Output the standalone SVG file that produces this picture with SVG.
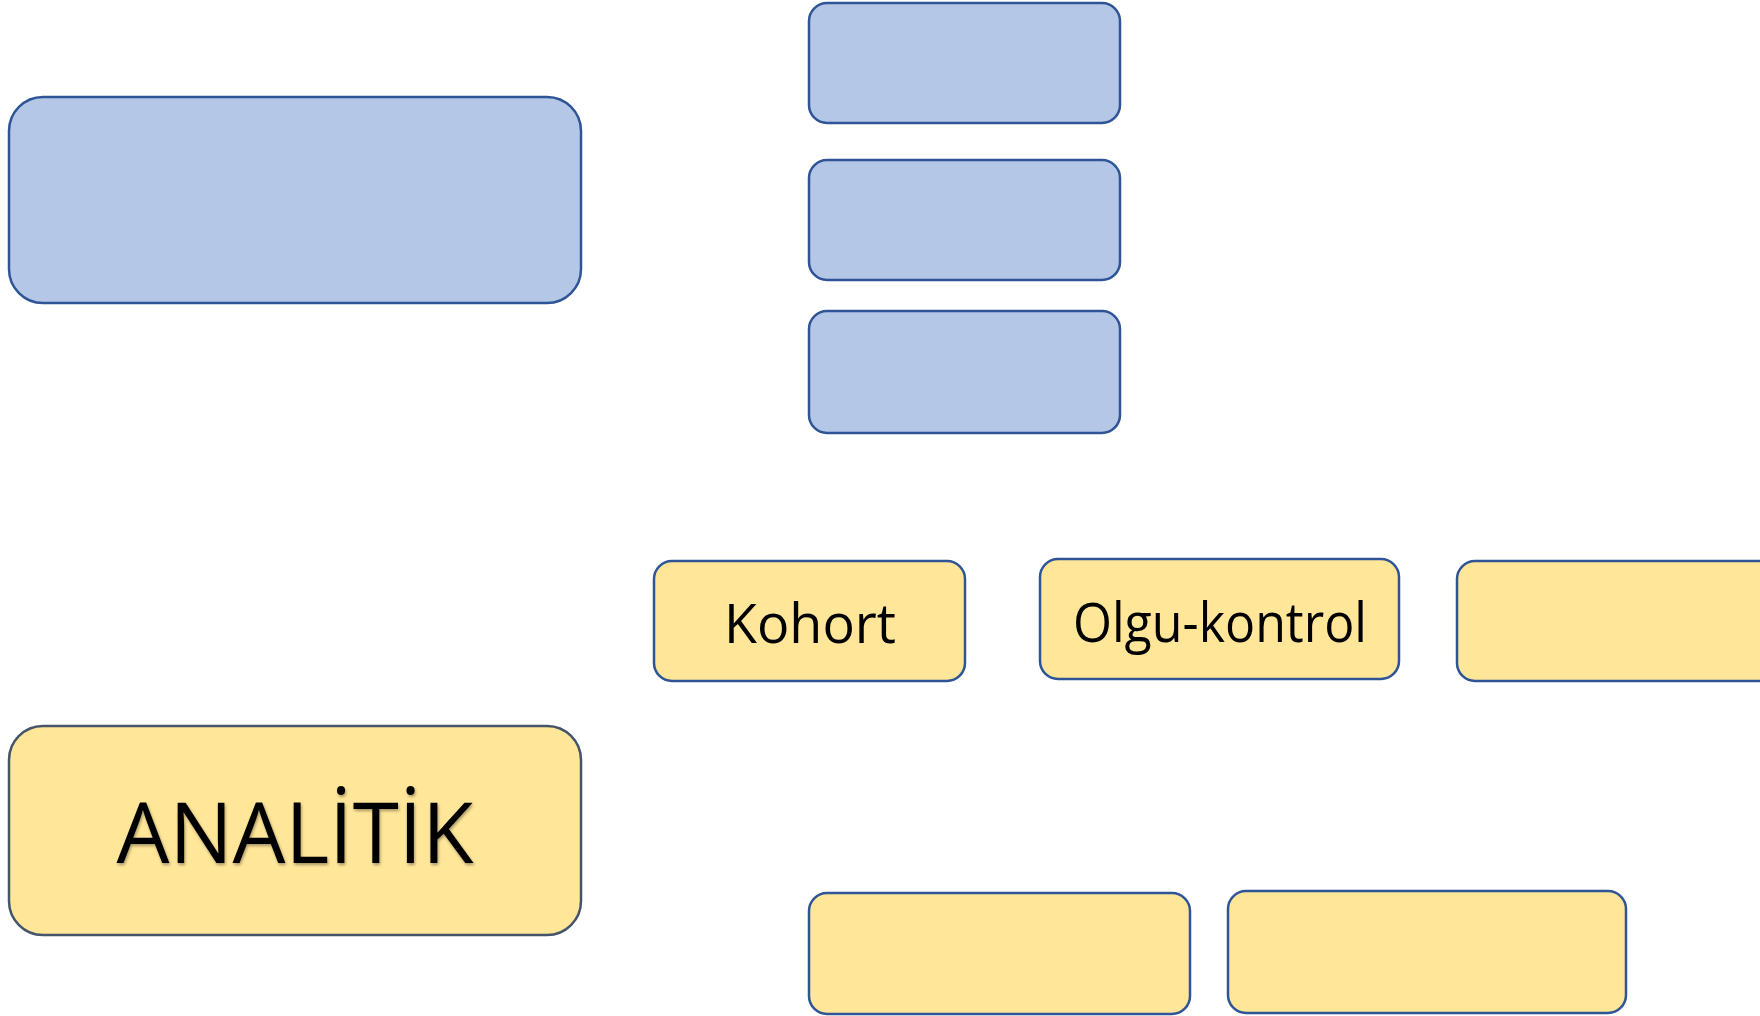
<svg xmlns="http://www.w3.org/2000/svg" width="1760" height="1016" viewBox="0 0 1760 1016">
<style>
.b{fill:#B4C7E7;stroke:#2F5597;stroke-width:2.5}
.y{fill:#FFE699;stroke:#2F5597;stroke-width:2.5}
.ya{fill:#FFE699;stroke:#44546A;stroke-width:2.5}
.t{font-family:"Open Sans","Noto Sans",sans-serif;fill:#000;text-anchor:middle}
</style>
<defs>
<filter id="sh" x="-10%" y="-10%" width="120%" height="130%">
<feGaussianBlur in="SourceAlpha" stdDeviation="1.5"/>
<feOffset dx="1" dy="2" result="o"/>
<feComponentTransfer><feFuncA type="linear" slope="0.35"/></feComponentTransfer>
<feMerge><feMergeNode/><feMergeNode in="SourceGraphic"/></feMerge>
</filter>
</defs>
<g id="connectors"></g>
<g id="blue-big"><rect class="b" x="9" y="97" width="572" height="206" rx="34"/></g>
<g id="blue-1"><rect class="b" x="809" y="3" width="311" height="120" rx="18"/></g>
<g id="blue-2"><rect class="b" x="809" y="160" width="311" height="120" rx="18"/></g>
<g id="blue-3"><rect class="b" x="809" y="311" width="311" height="122" rx="18"/></g>
<g id="kohort"><rect class="y" x="654" y="561" width="311" height="120" rx="18"/>
<text class="t" x="810" y="643" font-size="55" textLength="172" lengthAdjust="spacingAndGlyphs">Kohort</text></g>
<g id="olgu-kontrol"><rect class="y" x="1040" y="559" width="359" height="120" rx="18"/>
<text class="t" x="1220" y="642" font-size="55" textLength="294" lengthAdjust="spacingAndGlyphs">Olgu-kontrol</text></g>
<g id="yellow-3"><rect class="y" x="1457" y="561" width="320" height="120" rx="18"/></g>
<g id="analitik"><rect class="ya" x="9" y="726" width="572" height="209" rx="34"/>
<text class="t" x="295" y="863" font-size="85" textLength="357" lengthAdjust="spacingAndGlyphs" filter="url(#sh)">ANALİTİK</text></g>
<g id="yellow-4"><rect class="y" x="809" y="893" width="381" height="121" rx="18"/></g>
<g id="yellow-5"><rect class="y" x="1228" y="891" width="398" height="122" rx="18"/></g>
</svg>
